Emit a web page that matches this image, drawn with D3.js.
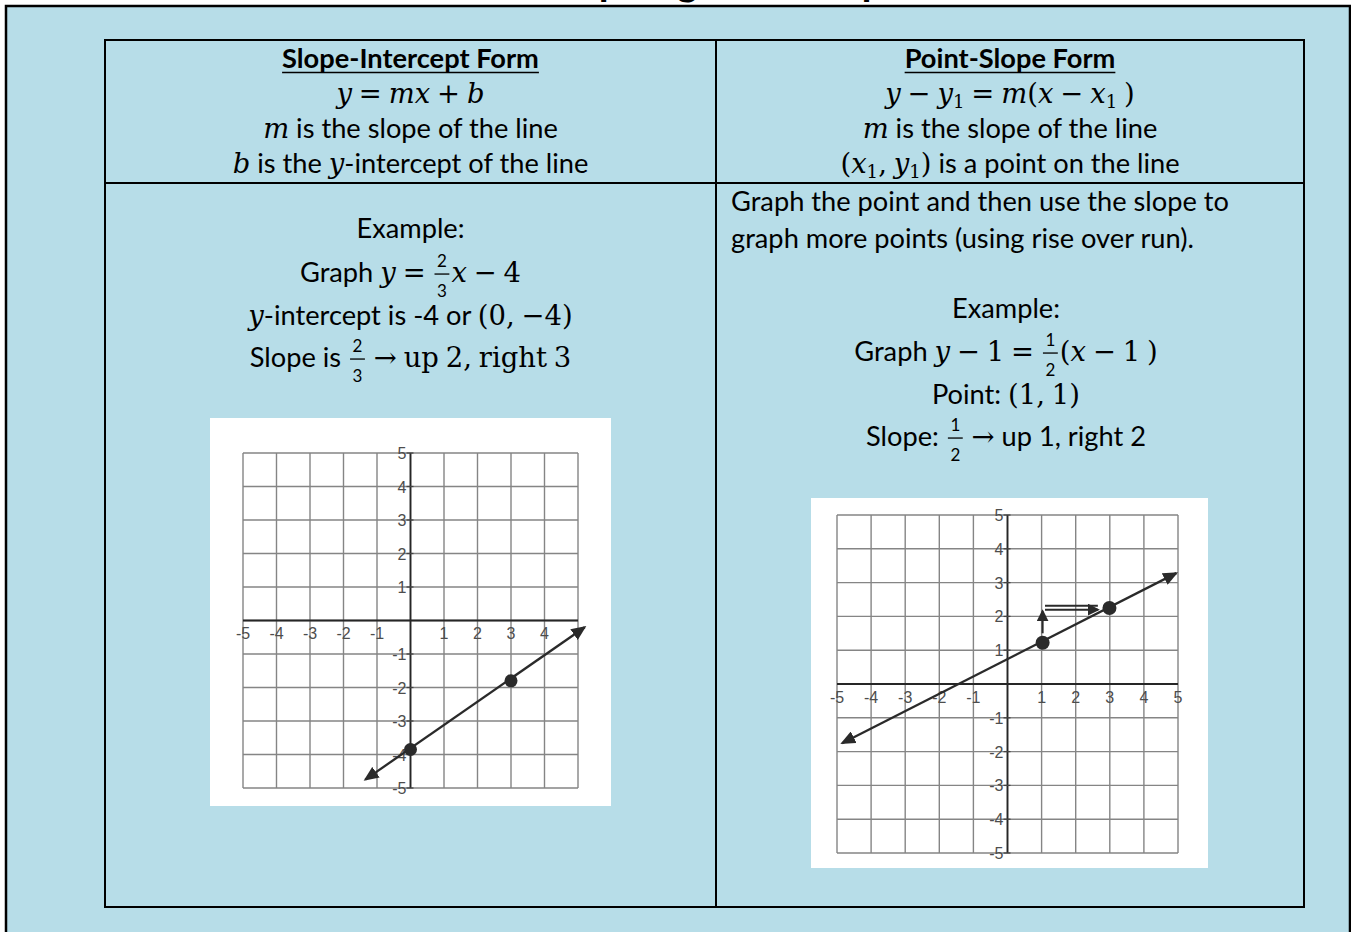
<!DOCTYPE html>
<html><head><meta charset="utf-8">
<script src="https://cdn.jsdelivr.net/npm/d3@7/dist/d3.min.js"></script>
<style>html,body{margin:0;padding:0;background:#fff;overflow:hidden}</style>
</head><body>
<svg id="c" width="1351" height="932"></svg>
<script>
// ---------------- DATA ----------------
const titleText = "Graphing Linear Equations";
const gridValues = [-5,-4,-3,-2,-1,0,1,2,3,4,5];
const axisDomain = [-5,5];
const g1XLabels = [-5,-4,-3,-2,-1,1,2,3,4];
const g1YLabels = [5,4,3,2,1,-1,-2,-3,-4,-5];
const g2XLabels = [-5,-4,-3,-2,-1,1,2,3,4,5];
const g2YLabels = [5,4,3,2,1,-1,-2,-3,-4,-5];
// graph 1: y = 2/3 x - 4
const g1LineX = [-1.35, 5.2];
const g1LineY = [-4.75, -0.2];
const g1PointX = [0, 3];
const g1PointY = [-3.85, -1.8];
// graph 2: y - 1 = 1/2 (x - 1)
const g2LineX = [-4.85, 4.95];
const g2LineY = [-1.75, 3.28];
const g2PointX = [1.03, 2.99];
const g2PointY = [1.22, 2.25];
const g2RiseX = [1.03, 1.03];
const g2RiseY = [1.5, 2.15];
const g2RunX = [1.1, 2.65];
const g2RunY = [2.2, 2.2];

// text content (segments: s=sans, b=bold heading, m=math, mu=math upright, sub=subscript, f=fraction)
const SP = "\u2005";
const leftHeader = [
  [["b","Slope-Intercept Form"]],
  [["m",`y${SP}=${SP}mx${SP}+${SP}b`]],
  [["m","m"],["s"," is the slope of the line"]],
  [["m","b"],["s"," is the "],["m","y"],["s","-intercept of the line"]]
];
const rightHeader = [
  [["b","Point-Slope Form"]],
  [["m",`y${SP}−${SP}y`],["sub","1"],["m",`${SP}=${SP}m(x${SP}−${SP}x`],["sub","1"],["m",`${SP})`]],
  [["m","m"],["s"," is the slope of the line"]],
  [["m","(x"],["sub","1"],["m",`,${SP}y`],["sub","1"],["m",")"],["s"," is a point on the line"]]
];
const leftBody = [
  [["s","Example:"]],
  [["s","Graph "],["m",`y${SP}=${SP}`],["f","2","3"],["m",`x${SP}−${SP}4`]],
  [["m","y"],["s","-intercept is -4 or "],["m",`(0,${SP}−4)`]],
  [["s","Slope is "],["f","2","3"],["mu",`${SP}→${SP}up${SP}2,${SP}right${SP}3`]]
];
const rightIntro = [
  [["s","Graph the point and then use the slope to"]],
  [["s","graph more points (using rise over run)."]]
];
const rightBody = [
  [["s","Example:"]],
  [["s","Graph "],["m",`y${SP}−${SP}1${SP}=${SP}`],["f","1","2"],["m",`(x${SP}−${SP}1${SP})`]],
  [["s","Point: "],["m",`(1,${SP}1)`]],
  [["s","Slope: "],["f","1","2"],["mu",`${SP}→${SP}`],["s","up 1, right 2"]]
];

// ---------------- LAYOUT ----------------
const W = 1351, H = 932;
const BLUE = "#B7DDE8";
const SANS = "Lato, 'Open Sans', sans-serif";
const MATH = "'DejaVu Serif', serif";
const svg = d3.select("#c");

svg.append("rect").attr("width",W).attr("height",H).attr("fill","#fff");
svg.append("rect").attr("x",6).attr("y",6).attr("width",1344).attr("height",H).attr("fill",BLUE);
svg.append("path").attr("d","M6,934V6H1350V934").attr("fill","none").attr("stroke","#000").attr("stroke-width",2.5);

// title: in the reference it sits above the frame and only its descenders show
svg.append("text").attr("x",535).attr("y",-5).attr("font-family",SANS).attr("font-weight",700)
  .attr("font-size",40).attr("fill","#000").text(titleText);

// table
const T = {x0:105, x1:1304, y0:40, y1:907, xm:716, yh:183};
const tbl = svg.append("g").attr("stroke","#000").attr("stroke-width",2).attr("fill","none");
tbl.append("rect").attr("x",T.x0).attr("y",T.y0).attr("width",T.x1-T.x0).attr("height",T.y1-T.y0);
tbl.append("line").attr("x1",T.xm).attr("x2",T.xm).attr("y1",T.y0).attr("y2",T.y1);
tbl.append("line").attr("x1",T.x0).attr("x2",T.x1).attr("y1",T.yh).attr("y2",T.yh);

// calibrate font sizes
function tmpWidth(str, fam, size, style){
  const t = svg.append("text").style("white-space","pre").attr("font-family",fam).attr("font-size",size)
    .attr("font-style",style||"normal").text(str);
  const w = t.node().getComputedTextLength(); t.remove(); return w;
}
const SANS_SIZE = 100 * 498 / tmpWidth("Graph the point and then use the slope to", SANS, 100);
function mathWidth(str, size){
  return (str.match(/[A-Za-z]+|[^A-Za-z]+/g)||[]).reduce((a,r)=>a+tmpWidth(r,MATH,size,/[A-Za-z]/.test(r)?"italic":"normal"),0);
}
const MATH_SIZE = 100 * 148 / mathWidth(`y${SP}=${SP}mx${SP}+${SP}b`, 100);

function drawLine(segs, cx, baseline, align){
  const g = svg.append("g");
  let x = 0;
  const add = (str, fam, size, style, weight, dy) => {
    const t = g.append("text").attr("x",x).attr("y",dy||0).style("white-space","pre")
      .attr("font-family",fam).attr("font-size",size).attr("font-style",style||"normal")
      .attr("font-weight",weight||400).attr("fill","#000").text(str);
    return t.node().getComputedTextLength();
  };
  segs.forEach(s => {
    const [type,a,b] = s;
    if (type === "s") { x += add(a, SANS, SANS_SIZE); }
    else if (type === "b") {
      const w = add(a, SANS, SANS_SIZE, "normal", 700);
      g.append("line").attr("x1",x).attr("x2",x+w).attr("y1",4.5).attr("y2",4.5)
        .attr("stroke","#000").attr("stroke-width",1.6);
      x += w;
    }
    else if (type === "m") {
      (a.match(/[A-Za-z]+|[^A-Za-z]+/g)||[]).forEach(r => {
        x += add(r, MATH, MATH_SIZE, /[A-Za-z]/.test(r) ? "italic" : "normal");
      });
    }
    else if (type === "mu") { x += add(a, MATH, MATH_SIZE); }
    else if (type === "sub") { x += add(a, MATH, MATH_SIZE*0.66, "normal", 400, 4.5); }
    else if (type === "f") {
      const fs = 17;
      const tn = g.append("text").attr("font-family",SANS).attr("font-size",fs).attr("text-anchor","middle").text(a);
      const td = g.append("text").attr("font-family",SANS).attr("font-size",fs).attr("text-anchor","middle").text(b);
      const w = Math.max(tn.node().getComputedTextLength(), td.node().getComputedTextLength()) + 5;
      tn.attr("x", x + 2 + w/2).attr("y", -15);
      td.attr("x", x + 2 + w/2).attr("y", 14.5);
      g.append("rect").attr("x", x + 2).attr("y", -8.6).attr("width", w).attr("height", 1.3).attr("fill","#000");
      x += w + 4;
    }
  });
  g.attr("transform", `translate(${align==="start" ? cx : cx - x/2},${baseline})`);
}

const cxL = (T.x0+T.xm)/2, cxR = (T.xm+T.x1)/2;
[68,103,138,173].forEach((b,i)=>{ drawLine(leftHeader[i], cxL, b); drawLine(rightHeader[i], cxR, b); });
[238,282,325,367].forEach((b,i)=> drawLine(leftBody[i], cxL, b));
[211,248].forEach((b,i)=> drawLine(rightIntro[i], 731, b, "start"));
[318,361,404,446].forEach((b,i)=> drawLine(rightBody[i], cxR - 4, b));

// ---------------- GRAPHS ----------------
const defs = svg.append("defs");
defs.append("marker").attr("id","ah").attr("markerUnits","userSpaceOnUse")
  .attr("viewBox","0 0 15 13").attr("markerWidth",15).attr("markerHeight",13)
  .attr("refX",13).attr("refY",6.5).attr("orient","auto-start-reverse")
  .append("path").attr("d","M0,0L15,6.5L0,13Z").attr("fill","#2a2a2a");
defs.append("marker").attr("id","ahs").attr("markerUnits","userSpaceOnUse")
  .attr("viewBox","0 0 12 12").attr("markerWidth",12).attr("markerHeight",12)
  .attr("refX",10).attr("refY",6).attr("orient","auto")
  .append("path").attr("d","M0,0L12,6L0,12Z").attr("fill","#2a2a2a");

function drawGraph(o){
  const g = svg.append("g");
  g.append("rect").attr("x",o.box[0]).attr("y",o.box[1]).attr("width",o.box[2]-o.box[0])
    .attr("height",o.box[3]-o.box[1]).attr("fill","#fff");
  const x = d3.scaleLinear().domain(axisDomain).range([o.grid[0], o.grid[2]]);
  const y = d3.scaleLinear().domain(axisDomain).range([o.grid[3], o.grid[1]]);
  const gl = g.append("g").attr("stroke","#858585").attr("stroke-width",1.4);
  gl.selectAll(".v").data(gridValues).join("line").attr("x1",d=>x(d)).attr("x2",d=>x(d))
    .attr("y1",y(5)).attr("y2",y(-5));
  gl.selectAll(".h").data(gridValues).join("line").attr("y1",d=>y(d)).attr("y2",d=>y(d))
    .attr("x1",x(-5)).attr("x2",x(5));
  // axes
  g.append("line").attr("x1",x(-5)).attr("x2",x(5)).attr("y1",y(0)).attr("y2",y(0)).attr("stroke","#262626").attr("stroke-width",1.8);
  g.append("line").attr("x1",x(0)).attr("x2",x(0)).attr("y1",y(5)).attr("y2",y(-5)).attr("stroke","#262626").attr("stroke-width",1.8);
  // y ticks
  g.selectAll(".yt").data(o.yLabels).join("line").attr("x1",x(0)-4).attr("x2",x(0)+3)
    .attr("y1",d=>y(d)).attr("y2",d=>y(d)).attr("stroke","#444").attr("stroke-width",1.3);
  // labels
  const lab = g.append("g").attr("font-family","'Liberation Sans', Arial, sans-serif")
    .attr("font-size",16).attr("fill","#4d4d4d");
  lab.selectAll(".xl").data(o.xLabels).join("text").attr("x",d=>x(d)).attr("y",y(0)+o.xLabDy)
    .attr("text-anchor","middle").text(d=>d);
  lab.selectAll(".yl").data(o.yLabels).join("text").attr("x",x(0)-4).attr("y",d=>y(d)+6)
    .attr("text-anchor","end").text(d=>d);
  // main line
  const ln = d3.line().x(d=>x(d[0])).y(d=>y(d[1]));
  g.append("path").attr("d",ln(d3.zip(o.lineX,o.lineY))).attr("fill","none").attr("stroke","#2a2a2a")
    .attr("stroke-width",2.3).attr("marker-start","url(#ah)").attr("marker-end","url(#ah)");
  (o.extras||[]).forEach(e => {
    (e.offsets||[0]).forEach(off => {
      g.append("path").attr("d",ln(d3.zip(e.x,e.y))).attr("transform",`translate(0,${off})`)
        .attr("fill","none").attr("stroke","#2a2a2a").attr("stroke-width",2)
        .attr("marker-end", off===0 ? "url(#ahs)" : null);
    });
  });
  g.selectAll(".pt").data(d3.zip(o.ptX,o.ptY)).join("circle").attr("cx",d=>x(d[0])).attr("cy",d=>y(d[1]))
    .attr("r",o.r).attr("fill","#2a2a2a");
}

drawGraph({box:[210,418,611,806], grid:[243,453,578,788], xLabels:g1XLabels, yLabels:g1YLabels,
  xLabDy:18, lineX:g1LineX, lineY:g1LineY, ptX:g1PointX, ptY:g1PointY, r:6.5});
drawGraph({box:[811,498,1208,868], grid:[837,515,1178,853], xLabels:g2XLabels, yLabels:g2YLabels,
  xLabDy:19, lineX:g2LineX, lineY:g2LineY, ptX:g2PointX, ptY:g2PointY, r:7,
  extras:[{x:g2RiseX,y:g2RiseY},{x:g2RunX,y:g2RunY,offsets:[0,-4]}]});
</script>
</body></html>
